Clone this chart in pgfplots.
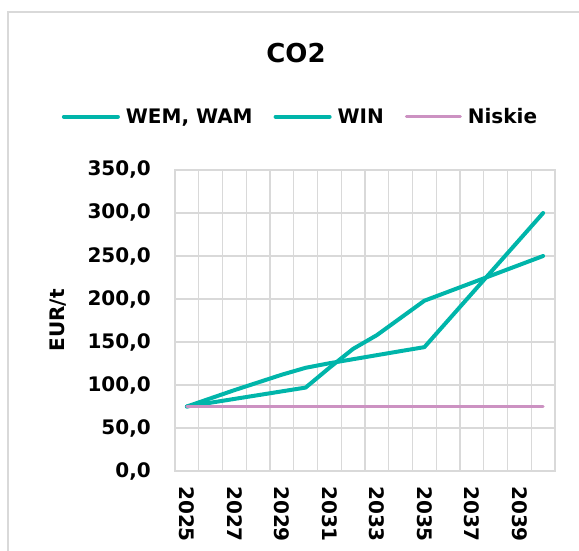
\documentclass[border=0pt]{standalone}
\usepackage{fontspec}
\setmainfont{DejaVu Sans}
\usepackage{pgfplots}
\pgfplotsset{compat=1.18}
\definecolor{teal1}{RGB}{0,181,170}
\definecolor{pinkl}{RGB}{204,146,194}
\definecolor{gridg}{RGB}{217,217,217}
\begin{document}
\begin{tikzpicture}[font=\fontsize{20bp}{24bp}\selectfont\bfseries]
\useasboundingbox (0,0) rectangle (579bp,551bp);
\draw[gridg, line width=1.3bp] (8bp,-20bp) rectangle (620bp,539bp);
\begin{axis}[
  at={(175bp,80bp)}, anchor=south west,
  width=380bp, height=301bp, scale only axis,
  xmin=2024.5, xmax=2040.5, ymin=0, ymax=350,
  xtick={2025,2027,2029,2031,2033,2035,2037,2039},
  xticklabels={2025,2027,2029,2031,2033,2035,2037,2039},
  minor xtick={2024.5,2025.5,2026.5,2027.5,2028.5,2029.5,2030.5,2031.5,2032.5,2033.5,2034.5,2035.5,2036.5,2037.5,2038.5,2039.5,2040.5},
  ytick={0,50,100,150,200,250,300,350},
  xminorgrids, ymajorgrids,
  major tick length=0pt, minor tick length=0pt,
  grid style={gridg, line width=1.3bp},
  minor grid style={gridg, line width=1.3bp},
  axis line style={gridg, line width=1.3bp},
  /pgf/number format/assume math mode=true,
  yticklabel style={/pgf/number format/.cd, fixed, fixed zerofill, precision=1, use comma, /tikz/.cd, anchor=east, inner sep=0pt, xshift=-24bp},
  xticklabel style={rotate=-90, anchor=west, inner xsep=15bp, inner ysep=0pt},
  title={CO2},
  title style={at={(axis description cs:0.3184,1.368)}, anchor=center, font=\fontsize{26bp}{30bp}\selectfont\bfseries},
  ylabel={EUR/t},
  ylabel style={at={(axis description cs:-0.3079,0.5)}, anchor=center},
  legend columns=3,
  legend style={at={(axis description cs:0.3276,1.177)}, anchor=center, draw=none, fill=none, inner sep=0pt,
    nodes={inner sep=0pt},
    /tikz/every odd column/.append style={column sep=6bp},
    /tikz/every even column/.append style={column sep=21bp}},
  legend cell align=left,
  legend image code/.code={\draw[#1, line cap=round] (0bp,0bp) -- (54bp,0bp);},
  no markers,
]
\addplot[teal1, line width=4bp, line join=round, line cap=round] coordinates {
(2025,75) (2026,79.4) (2027,83.8) (2028,88.2) (2029,92.6) (2030,97)
(2031,120) (2032,142) (2033,158) (2034,178) (2035,198)
(2036,208.4) (2037,218.8) (2038,229.2) (2039,239.6) (2040,250)};
\addlegendentry{WEM, WAM}
\addplot[teal1, line width=4bp, line join=round, line cap=round] coordinates {
(2025,75) (2026,84.5) (2027,94) (2028,103) (2029,112) (2030,120)
(2031,125.3) (2032,130) (2033,134.7) (2034,139.4) (2035,144)
(2036,175.2) (2037,206.4) (2038,237.6) (2039,268.8) (2040,300)};
\addlegendentry{WIN}
\addplot[pinkl, line width=3bp, line join=round, line cap=round] coordinates {
(2025,75) (2026,75) (2027,75) (2028,75) (2029,75) (2030,75)
(2031,75) (2032,75) (2033,75) (2034,75) (2035,75)
(2036,75) (2037,75) (2038,75) (2039,75) (2040,75)};
\addlegendentry{Niskie}
\end{axis}
\end{tikzpicture}
\end{document}
